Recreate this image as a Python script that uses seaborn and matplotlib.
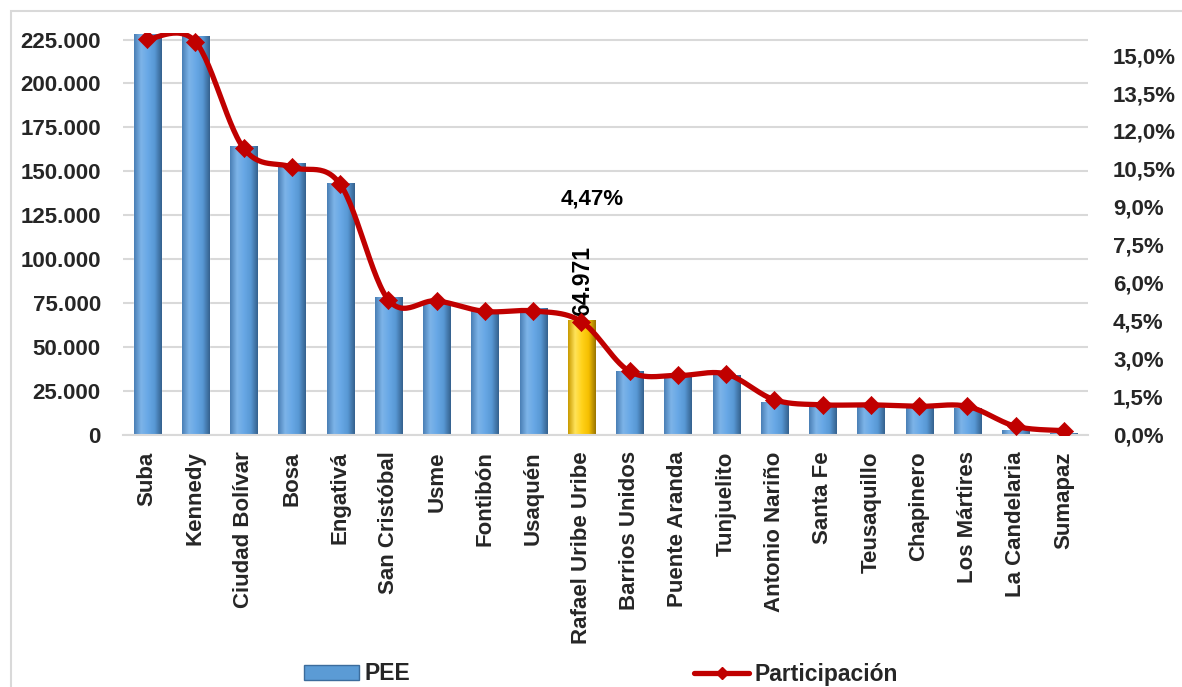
import numpy as np
import pandas as pd
import matplotlib
matplotlib.use("Agg")
import matplotlib.pyplot as plt
import seaborn as sns
from matplotlib.colors import LinearSegmentedColormap
from matplotlib.patches import Patch, Rectangle
from matplotlib.lines import Line2D
from matplotlib.ticker import FuncFormatter

# ---------------- data ----------------
districts = ["Suba", "Kennedy", "Ciudad Bolívar", "Bosa", "Engativá", "San Cristóbal",
             "Usme", "Fontibón", "Usaquén", "Rafael Uribe Uribe", "Barrios Unidos",
             "Puente Aranda", "Tunjuelito", "Antonio Nariño", "Santa Fe", "Teusaquillo",
             "Chapinero", "Los Mártires", "La Candelaria", "Sumapaz"]
pee = [227800, 227000, 164200, 154800, 143400, 78100, 76000, 70900, 72000, 64971,
       36200, 33500, 33800, 18400, 16300, 16300, 16000, 15000, 2700, 700]
participacion = [15.62, 15.53, 11.32, 10.57, 9.90, 5.33, 5.29, 4.87, 4.89, 4.47,
                 2.50, 2.34, 2.40, 1.38, 1.18, 1.18, 1.12, 1.12, 0.33, 0.16]
highlight = "Rafael Uribe Uribe"
left_ticks = [0, 25000, 50000, 75000, 100000, 125000, 150000, 175000, 200000, 225000]
right_ticks = [0, 1.5, 3.0, 4.5, 6.0, 7.5, 9.0, 10.5, 12.0, 13.5, 15.0]

df = pd.DataFrame({"Localidad": districts, "PEE": pee, "Participacion": participacion})

# ---------------- style ----------------
sns.set_theme(style="white")
plt.rcParams["font.family"] = ["Liberation Sans", "DejaVu Sans"]
plt.rcParams["font.weight"] = "bold"

W, H = 1182, 687
fig = plt.figure(figsize=(W / 100, H / 100), dpi=100)
ax = fig.add_axes([123 / W, 1 - 434.7 / H, (1088 - 123) / W, (434.7 - 33.4) / H])

BLUE = "#5b9bd5"
YELLOW = "#ffc000"
RED = "#c00000"
palette = {d: (YELLOW if d == highlight else BLUE) for d in districts}

sns.barplot(data=df, x="Localidad", y="PEE", hue="Localidad", palette=palette,
            legend=False, width=0.56, ax=ax, zorder=2, saturation=1)

# gradient shading on bars (cylinder-like)
blue_cmap = LinearSegmentedColormap.from_list(
    "b", ["#4a7fb5", "#7db4e8", "#68a8e6", "#5898d4", "#35618e"])
yellow_cmap = LinearSegmentedColormap.from_list(
    "y", ["#c99a00", "#ffe35a", "#ffd21a", "#f5bf00", "#9a7500"])
grad = np.linspace(0, 1, 64).reshape(1, -1)
for patch, name in zip(ax.patches, districts):
    x0, y0 = patch.get_x(), patch.get_y()
    w, h = patch.get_width(), patch.get_height()
    cmap = yellow_cmap if name == highlight else blue_cmap
    ax.imshow(grad, extent=[x0, x0 + w, y0, y0 + h], aspect="auto", cmap=cmap,
              zorder=2.1, interpolation="bilinear")

ax.set_xlim(-0.5, len(districts) - 0.5)
ax.set_ylim(0, 228500)
ax.set_yticks(left_ticks)
ax.yaxis.set_major_formatter(FuncFormatter(lambda v, p: f"{int(v):,}".replace(",", ".")))
ax.grid(axis="y", color="#d9d9d9", linewidth=1.5, zorder=0)
ax.set_axisbelow(True)
for s in ["left", "right", "top"]:
    ax.spines[s].set_visible(False)
ax.spines["bottom"].set_color("#d9d9d9")
ax.spines["bottom"].set_linewidth(1.5)
ax.set_xlabel("")
ax.set_ylabel("")
ax.tick_params(axis="y", length=0, pad=16, labelsize=16)
ax.tick_params(axis="x", length=0, pad=12, labelsize=16)
for lab in ax.get_xticklabels():
    lab.set_rotation(90)
    lab.set_fontweight("bold")
for lab in ax.get_yticklabels():
    lab.set_fontweight("bold")

# ---------------- secondary axis ----------------
ax2 = ax.twinx()
ax2.set_ylim(0, (434.7 - 33.4) / 25.31)


def smooth(xs, ys, n=30):
    xs = np.asarray(xs, float)
    ys = np.asarray(ys, float)
    px = np.concatenate([[xs[0]], xs, [xs[-1]]])
    py = np.concatenate([[ys[0]], ys, [ys[-1]]])
    ox, oy = [], []
    t = np.linspace(0, 1, n)
    for i in range(1, len(px) - 2):
        p0 = np.array([px[i], py[i]])
        p3 = np.array([px[i + 1], py[i + 1]])
        p1 = p0 + (np.array([px[i + 1], py[i + 1]]) - np.array([px[i - 1], py[i - 1]])) / 6
        p2 = p3 - (np.array([px[i + 2], py[i + 2]]) - np.array([px[i], py[i]])) / 6
        b = ((1 - t) ** 3)[:, None] * p0 + (3 * (1 - t) ** 2 * t)[:, None] * p1 \
            + (3 * (1 - t) * t ** 2)[:, None] * p2 + (t ** 3)[:, None] * p3
        ox.extend(b[:, 0])
        oy.extend(b[:, 1])
    return np.array(ox), np.array(oy)


xi = np.arange(len(districts))
sx, sy = smooth(xi, participacion)
ax2.plot(sx, sy, color=RED, linewidth=3.8, solid_capstyle="round", zorder=3)
sns.scatterplot(x=xi, y=participacion, marker="D", s=85, color=RED, edgecolor=RED,
                linewidth=0.5, ax=ax2, zorder=4)
ax2.set_yticks(right_ticks)
ax2.yaxis.set_major_formatter(FuncFormatter(lambda v, p: f"{v:.1f}%".replace(".", ",")))
ax2.tick_params(axis="y", length=0, pad=18, labelsize=16)
for lab in ax2.get_yticklabels():
    lab.set_fontweight("bold")
for s in ax2.spines.values():
    s.set_visible(False)
ax2.grid(False)
ax2.set_xlim(-0.5, len(districts) - 0.5)

# annotations
hi = districts.index(highlight)
ax.annotate(f"{pee[hi]:,}".replace(",", "."), xy=(hi, pee[hi]), xytext=(1, 3),
            textcoords="offset points", rotation=90, ha="center", va="bottom",
            fontsize=16.5, fontweight="bold", color="black", zorder=6)
ax2.annotate(f"{participacion[hi]:.2f}%".replace(".", ","), xy=(hi, participacion[hi]),
             xytext=(8, 88), textcoords="offset points", ha="center", va="center",
             fontsize=16, fontweight="bold", color="black", zorder=6)

# legend
handles = [Patch(facecolor=BLUE, edgecolor="#3c6c9c", linewidth=1),
           Line2D([0], [0], color=RED, linewidth=3.8, marker="D", markersize=6)]
fig.legend(handles, ["PEE", "Participación"], loc="center",
           bbox_to_anchor=(0.5085, 1 - 674 / H), ncol=2, frameon=False,
           handlelength=2.4, handleheight=0.6, columnspacing=12.4,
           handletextpad=0.22, prop={"weight": "bold", "size": 16.5})

# outer border
fig.patches.append(Rectangle((11 / W, -0.05), 1.1, 1 - 11 / H + 0.05,
                             transform=fig.transFigure, fill=False,
                             edgecolor="#d9d9d9", linewidth=1.5, zorder=0))

fig.savefig("out.png", dpi=100)
